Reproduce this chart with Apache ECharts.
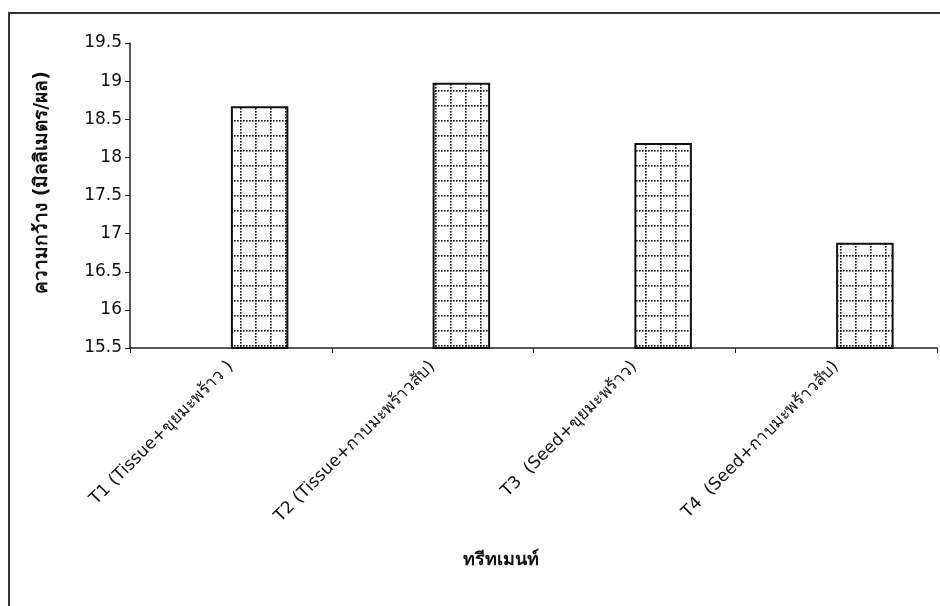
<!DOCTYPE html>
<html>
<head>
<meta charset="utf-8">
<script src="https://cdn.jsdelivr.net/npm/echarts@6/dist/echarts.min.js"></script>
<style>
  html, body { margin: 0; padding: 0; background: #fff; }
  #frame { position: absolute; left: 8px; top: 12px; width: 940px; height: 600px;
           border-left: 2px solid #333; border-top: 2px solid #333; box-sizing: border-box; }
  #chart { position: absolute; left: 0; top: 0; width: 940px; height: 606px; }
</style>
</head>
<body>
<div id="frame"></div>
<div id="chart"></div>
<script>
// Treatments (x categories) and mean fruit width in mm
const categories = [
  'T1 (Tissue+ขุยมะพร้าว )',
  'T2 (Tissue+กาบมะพร้าวสับ)',
  'T3  (Seed+ขุยมะพร้าว)',
  'T4  (Seed+กาบมะพร้าวสับ)'
];
const widthValues = [18.67, 18.98, 18.19, 16.88];
// empty companion series keeps the cluster slot on the left of each bar
const emptySlot = [null, null, null, null];
const yTicks = { min: 15.5, max: 19.5, step: 0.5 };

// dotted grid fill used inside the bars
function gridPattern() {
  const size = 15;
  const c = document.createElement('canvas');
  c.width = size; c.height = size;
  const g = c.getContext('2d');
  g.fillStyle = '#fff';
  g.fillRect(0, 0, size, size);
  g.fillStyle = '#111';
  for (let i = 0; i < size; i += 3) {
    g.fillRect(i, 0, 1.6, 1.6);
    g.fillRect(0, i, 1.6, 1.6);
  }
  return c;
}

const font = '"DejaVu Sans", "Liberation Sans", Arial, sans-serif';
const chart = echarts.init(document.getElementById('chart'), null, { renderer: 'canvas' });
chart.setOption({
  backgroundColor: 'transparent',
  animation: false,
  grid: { left: 130, right: 3, top: 43, bottom: 258, containLabel: false },
  xAxis: {
    type: 'category',
    data: categories,
    name: 'ทรีทเมนท์',
    nameLocation: 'middle',
    nameGap: 203,
    nameTextStyle: { fontFamily: font, fontSize: 18, fontWeight: 'bold', color: '#111', padding: [0, 66, 0, 0] },
    axisLine: { lineStyle: { color: '#222', width: 1.5 } },
    axisTick: { show: true, length: 5, lineStyle: { color: '#222' } },
    axisLabel: { rotate: 45, fontFamily: font, fontSize: 17, color: '#111', margin: 16, interval: 0 },
    splitLine: { show: false }
  },
  yAxis: {
    type: 'value',
    min: yTicks.min,
    max: yTicks.max,
    interval: yTicks.step,
    name: 'ความกว้าง (มิลลิเมตร/ผล)',
    nameLocation: 'middle',
    nameGap: 78,
    nameRotate: 90,
    nameTextStyle: { fontFamily: font, fontSize: 19, fontWeight: 'bold', color: '#111', padding: [0, 0, 0, 26] },
    axisLine: { show: true, lineStyle: { color: '#222', width: 1.5 } },
    axisTick: { show: true, inside: false, length: 5, lineStyle: { color: '#222' } },
    axisLabel: { fontFamily: font, fontSize: 17, color: '#111', margin: 8 },
    splitLine: { show: false }
  },
  series: [
    {
      type: 'bar',
      name: 'ว่าง',
      data: emptySlot,
      barGap: '0%',
      barCategoryGap: '43%',
      itemStyle: { color: 'transparent' }
    },
    {
      type: 'bar',
      name: 'ความกว้าง',
      data: widthValues,
      barGap: '0%',
      barCategoryGap: '43%',
      itemStyle: {
        color: { image: gridPattern(), repeat: 'repeat' },
        borderColor: '#111',
        borderWidth: 2
      }
    }
  ]
});
</script>
</body>
</html>
